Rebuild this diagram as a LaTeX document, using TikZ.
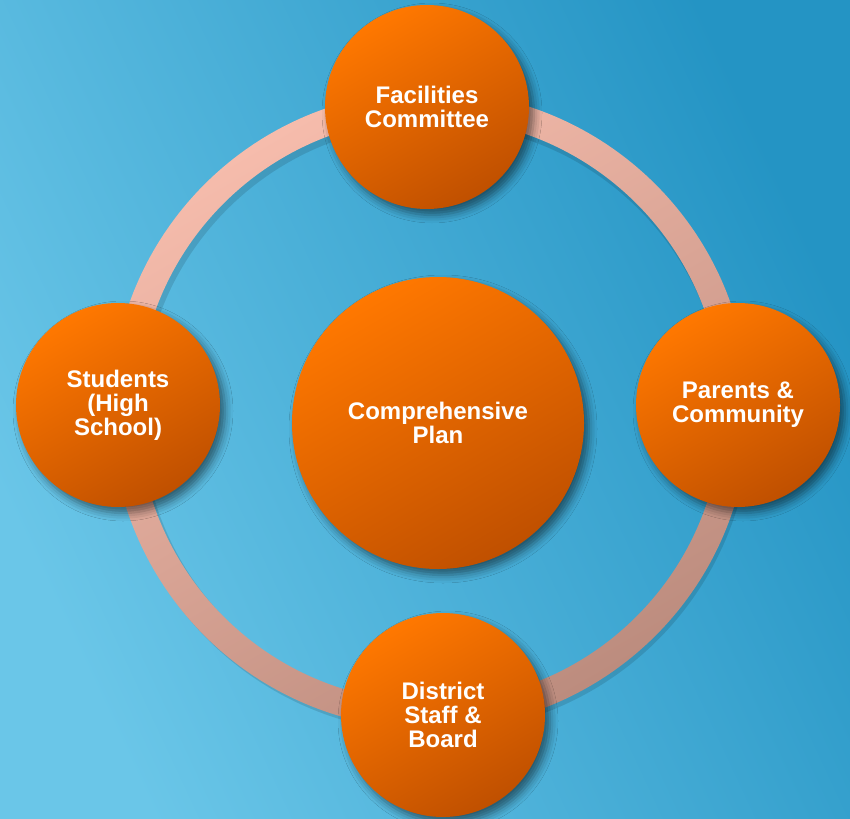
\documentclass[tikz,border=0pt]{standalone}
\usepackage{fontspec}
\setmainfont{Liberation Sans}
\usetikzlibrary{shadows.blur}
\definecolor{bgdark}{RGB}{36,148,196}
\definecolor{bglight}{RGB}{106,198,232}
\definecolor{balltop}{RGB}{255,120,0}
\definecolor{ballbot}{RGB}{192,80,0}
\definecolor{ringtop}{RGB}{246,188,172}
\definecolor{ringbot}{RGB}{188,140,126}

\begin{document}
\begin{tikzpicture}[
  x=1pt, y=-1pt,
  font=\bfseries\fontsize{24}{24}\selectfont,
  ball/.style={
    circle, draw=none, text=white, align=center,
    inner sep=0pt, minimum size=204pt,
    top color=balltop, bottom color=ballbot, shading angle=30,
    blur shadow={shadow xshift=5pt, shadow yshift=-6pt,
                 shadow blur radius=8pt, shadow opacity=50}
  },
  bigball/.style={ball, minimum size=292pt},
]

% ---- Background ----
\shade[top color=bgdark, bottom color=bglight, shading angle=-65]
  (0,0) rectangle (850,818);
\useasboundingbox (0,0) rectangle (850,818);

% ---- Ring ----
\coordinate (hub) at (430,410);
\fill[black, opacity=0.12, even odd rule]
  ([shift={(3,5)}]hub) circle[radius=318] ([shift={(3,5)}]hub) circle[radius=291];
\shade[even odd rule, top color=ringtop, bottom color=ringbot, shading angle=30]
  (hub) circle[radius=319] (hub) circle[radius=292];

% ---- Nodes ----
\node[bigball] (plan) at (438,423) {Comprehensive\\Plan};

\node[ball] (fac)  at (427,107) {Facilities\\Committee};
\node[ball] (par)  at (738,405) {Parents \&\\Community};
\node[ball] (dist) at (443,715) {District\\Staff \&\\Board};
\node[ball] (stu)  at (118,405) {Students\\(High\\School)};

\end{tikzpicture}
\end{document}
